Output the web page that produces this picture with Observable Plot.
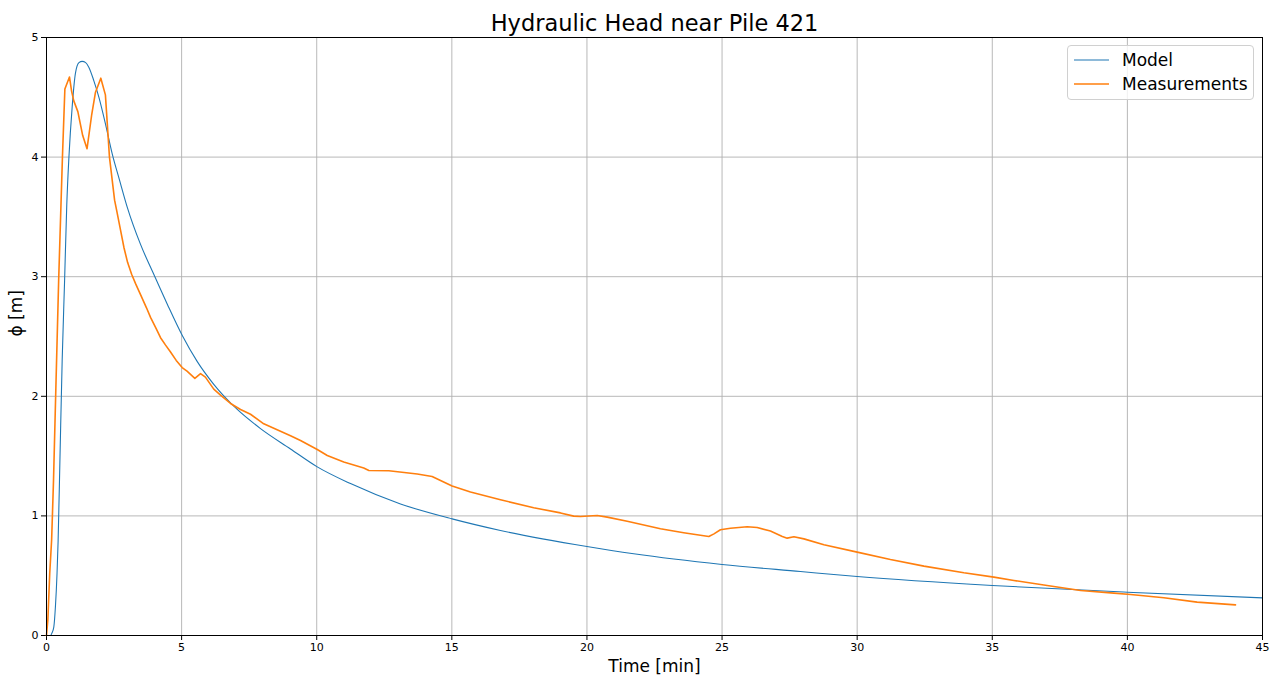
<!DOCTYPE html>
<html>
<head>
<meta charset="utf-8">
<script src="https://cdn.jsdelivr.net/npm/d3@7"></script>
<script src="https://cdn.jsdelivr.net/npm/@observablehq/plot@0.6"></script>
<style>
  body { margin: 0; background: #fff; font-family: "DejaVu Sans", sans-serif; }
  #wrap { position: relative; width: 1272px; height: 677px; }
  #legend { position: absolute; left: 1067px; top: 45px; width: 187px; height: 55px;
    border: 1px solid #d0d0d0; border-radius: 4px; background: rgba(255,255,255,0.8);
    font-size: 17px; color: #000; box-sizing: border-box; }
  .item { position: absolute; left: 0; height: 20px; display: flex; align-items: center; }
  .item svg { margin-left: 6px; margin-right: 13px; }
</style>
</head>
<body>
<div id="wrap"></div>
<script>
const title = "Hydraulic Head near Pile 421";
const xLabel = "Time [min]";
const yLabel = "ϕ [m]";
const seriesNames = ["Model", "Measurements"];
const seriesColors = ["#1f77b4", "#ff7f0e"];
const xTicks = [0, 5, 10, 15, 20, 25, 30, 35, 40, 45];
const yTicks = [0, 1, 2, 3, 4, 5];

const timeModel = [0, 0.15, 0.2, 0.27, 0.33, 0.39, 0.43, 0.5, 0.58, 0.67, 0.75, 0.83, 0.95, 1.07, 1.2, 1.32, 1.45, 1.57, 1.75, 1.94, 2.2, 2.43, 2.7, 2.99, 3.48, 3.97, 4.47, 5.02, 5.58, 6.19, 7.06, 7.92, 9.03, 10.02, 11.25, 13.1, 15.01, 16.8, 20, 21.73, 25, 27.9, 30, 35, 40, 45];
const headModel = [0, 0, 0.02, 0.07, 0.24, 0.52, 0.79, 1.5, 2.3, 2.97, 3.6, 4.0, 4.42, 4.70, 4.79, 4.80, 4.79, 4.75, 4.64, 4.50, 4.26, 4.03, 3.81, 3.58, 3.27, 3.02, 2.77, 2.51, 2.29, 2.10, 1.89, 1.73, 1.56, 1.41, 1.27, 1.10, 0.975, 0.878, 0.744, 0.683, 0.594, 0.535, 0.493, 0.418, 0.362, 0.315];

const timeMeas = [0, 0.05, 0.12, 0.19, 0.26, 0.35, 0.45, 0.59, 0.68, 0.85, 0.93, 1.01, 1.16, 1.34, 1.5, 1.67, 1.81, 2.01, 2.18, 2.33, 2.52, 2.6, 2.74, 2.87, 3.0, 3.15, 3.3, 3.48, 3.7, 3.85, 4.05, 4.22, 4.4, 4.59, 4.8, 5.02, 5.2, 5.49, 5.7, 5.88, 6.19, 6.44, 6.81, 7.18, 7.55, 8.04, 9.03, 9.4, 10.02, 10.39, 11.0, 11.74, 11.93, 12.67, 13.72, 14.27, 15.01, 15.69, 16.8, 18.03, 19.02, 19.51, 19.76, 20.38, 20.75, 21.49, 22.72, 23.58, 24.51, 24.7, 24.94, 25.31, 25.93, 26.3, 26.79, 27.23, 27.41, 27.66, 28.03, 28.77, 30.0, 31.23, 32.47, 33.95, 35.06, 35.8, 37.03, 38.27, 39.5, 40.12, 41.35, 42.58, 44.0];
const headMeas = [0, 0.13, 0.52, 0.8, 1.3, 2.1, 2.97, 4.0, 4.57, 4.67, 4.55, 4.47, 4.38, 4.18, 4.07, 4.35, 4.54, 4.66, 4.52, 4.0, 3.64, 3.55, 3.39, 3.24, 3.12, 3.02, 2.94, 2.85, 2.74, 2.66, 2.57, 2.49, 2.43, 2.37, 2.30, 2.24, 2.21, 2.15, 2.19, 2.16, 2.06, 2.01, 1.94, 1.89, 1.85, 1.77, 1.67, 1.63, 1.555, 1.505, 1.45, 1.40, 1.38, 1.377, 1.35, 1.33, 1.25, 1.20, 1.135, 1.068, 1.025, 0.998, 0.995, 1.003, 0.99, 0.956, 0.892, 0.859, 0.828, 0.85, 0.884, 0.897, 0.909, 0.903, 0.873, 0.828, 0.814, 0.825, 0.808, 0.758, 0.697, 0.635, 0.58, 0.524, 0.488, 0.46, 0.418, 0.376, 0.354, 0.343, 0.315, 0.279, 0.256];

const model = timeModel.map((t, i) => ({t, h: headModel[i]}));
const meas = timeMeas.map((t, i) => ({t, h: headMeas[i]}));

const font = "DejaVu Sans";
const chart = Plot.plot({
  width: 1272,
  height: 677,
  marginLeft: 46,
  marginRight: 10,
  marginTop: 37,
  marginBottom: 42,
  style: {fontFamily: font, background: "#fff", color: "#000"},
  x: {domain: [0, 45]},
  y: {domain: [0, 5]},
  marks: [
    Plot.gridX(xTicks, {stroke: "#b0b0b0", strokeOpacity: 1, strokeWidth: 0.9}),
    Plot.gridY(yTicks, {stroke: "#b0b0b0", strokeOpacity: 1, strokeWidth: 0.9}),
    Plot.axisX({ticks: xTicks, tickSize: 5, tickPadding: 3, fontSize: 11, label: null, stroke: "#000", tickFormat: d => String(d)}),
    Plot.axisY({ticks: yTicks, tickSize: 5, tickPadding: 3, fontSize: 11, label: null, stroke: "#000", tickFormat: d => String(d)}),
    Plot.line(model, {x: "t", y: "h", stroke: seriesColors[0], strokeWidth: 1.1, curve: "monotone-x"}),
    Plot.line(meas, {x: "t", y: "h", stroke: seriesColors[1], strokeWidth: 1.6}),
    Plot.frame({stroke: "#000", strokeWidth: 1}),
    Plot.text([title], {frameAnchor: "top", lineAnchor: "middle", dy: -14, fontSize: 22.5, fill: "#000"}),
    Plot.text([xLabel], {frameAnchor: "bottom", lineAnchor: "middle", dy: 31, fontSize: 17, fill: "#000"}),
    Plot.text([yLabel], {frameAnchor: "left", lineAnchor: "middle", dx: -30, rotate: -90, fontSize: 17, fill: "#000"})
  ]
});
const wrap = document.getElementById("wrap");
wrap.appendChild(chart);

const legend = document.createElement("div");
legend.id = "legend";
seriesNames.forEach((name, i) => {
  const item = document.createElement("div");
  item.className = "item";
  item.style.top = (4 + i * 24) + "px";
  item.innerHTML = `<svg width="35" height="4"><line x1="0" x2="35" y1="2" y2="2" stroke="${seriesColors[i]}" stroke-width="${i ? 1.6 : 1.1}"/></svg><span>${name}</span>`;
  legend.appendChild(item);
});
wrap.appendChild(legend);
</script>
</body>
</html>
